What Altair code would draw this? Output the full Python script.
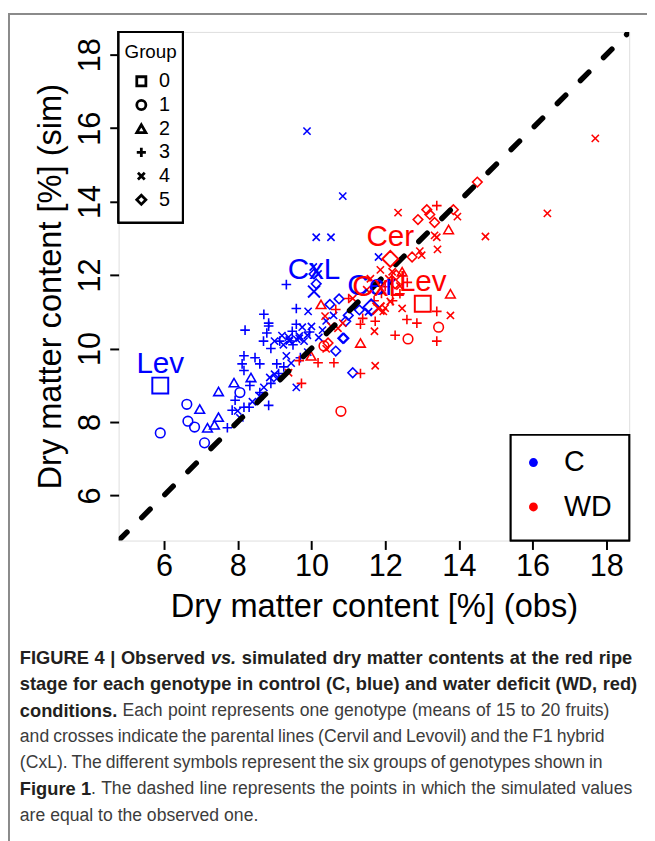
import altair as alt
import pandas as pd

# ---------------- data ----------------
# Control (C, blue): observed, simulated, group
c_obs = [5.90, 6.62, 6.65, 6.83, 7.10, 8.06,
         6.97, 7.48, 7.48, 7.18, 7.37, 7.90, 8.36,
         8.17, 8.12, 8.17, 8.47, 8.60, 8.33, 7.85, 7.72, 7.93, 8.17, 8.31, 8.84, 9.06, 9.11, 8.60,
         9.32, 8.71, 8.84, 8.84, 8.79, 8.20, 9.59, 9.59, 9.48, 9.14,
         9.50, 9.95, 9.70, 9.25, 8.90, 8.70, 8.90,
         8.06, 9.32, 8.71, 8.87, 9.06, 9.59, 9.67, 9.40, 10.13, 10.53, 9.91, 10.05, 10.18,
         9.38, 9.75, 9.89, 9.24, 9.88, 10.85, 11.82, 9.40, 9.67,
         9.00, 9.20, 9.60, 9.80, 10.00, 10.30, 10.40, 10.60, 10.20, 9.90, 9.45, 9.00, 8.60, 8.40,
         8.00, 11.55,
         10.66, 10.88, 11.12, 10.13, 10.07, 10.85, 10.93, 10.50, 10.75, 11.00, 11.30]
c_sim = [7.70, 8.48, 8.02, 7.86, 7.43, 8.80,
         8.35, 8.83, 8.13, 7.84, 7.92, 9.07, 9.21,
         9.80, 9.58, 9.40, 9.75, 9.58, 8.99, 8.32, 7.84, 8.59, 8.40, 8.40, 8.45, 9.58, 9.32, 8.80,
         11.74, 10.93, 10.69, 10.61, 10.42, 10.50, 11.09, 10.66, 10.47, 10.20,
         10.10, 10.45, 9.75, 9.50, 9.05, 10.20, 10.00,
         8.11, 9.80, 8.94, 9.21, 9.18, 8.94, 10.28, 10.23, 13.03, 13.03, 11.01, 12.22, 12.03,
         10.31, 10.58, 10.36, 10.10, 15.92, 14.15, 12.49, 10.20, 10.34,
         10.20, 10.35, 10.25, 10.20, 10.60, 10.50, 10.75, 10.90, 10.30, 9.90, 9.60, 9.30, 8.70, 8.55,
         8.30, 11.00,
         9.93, 10.28, 9.34, 11.76, 12.03, 10.28, 10.74, 11.20, 11.35, 10.90, 11.05]
c_grp = (["1"] * 6 + ["2"] * 7 + ["3"] * 15 + ["3"] * 10 + ["3"] * 7 + ["4"] * 13 + ["4"] * 9
         + ["4"] * 14 + ["4"] * 2 + ["5"] * 11)

# Water deficit (WD, red)
wd_obs = [10.80, 10.34, 12.62, 13.45,
          9.99, 10.26, 11.33, 13.77, 12.46, 13.72,
          9.73, 9.67, 10.18, 10.61, 10.66, 11.33, 11.39, 12.27, 13.40, 12.86, 13.40, 13.40,
          11.01, 12.00, 12.40, 12.59, 11.73, 11.33, 11.90, 12.20, 11.70, 12.60,
          9.38, 10.37, 11.12, 10.40, 11.71, 13.77, 12.46, 11.87, 12.19, 12.99, 12.94, 13.42,
          13.40, 13.34, 14.72, 12.35, 13.96, 16.40, 17.70, 10.53, 10.72, 10.85, 12.14, 11.95, 11.73,
          11.60, 12.10, 12.00, 11.50, 12.40,
          10.45, 12.73, 12.89, 13.13, 13.34, 13.21, 13.85, 14.50, 12.27, 12.30]
wd_sim = [8.29, 10.07, 10.26, 10.58,
          9.80, 11.20, 10.15, 11.49, 12.09, 13.24,
          9.05, 9.67, 9.61, 9.61, 11.06, 10.66, 10.82, 10.36, 10.20, 10.69, 11.01, 13.89,
          11.36, 11.68, 11.49, 10.79, 10.74, 9.32, 11.50, 11.30, 11.30, 11.80,
          9.34, 10.88, 11.36, 9.99, 10.47, 10.90, 11.09, 12.14, 12.09, 12.54, 12.65, 12.70,
          13.03, 13.08, 13.05, 13.70, 13.59, 13.68, 15.72, 10.61, 10.55, 10.69, 11.28, 11.01, 9.53,
          11.90, 11.90, 11.10, 11.60, 11.70,
          10.15, 12.49, 13.51, 13.78, 13.43, 13.65, 13.78, 14.53, 11.76, 12.00]
wd_grp = ["1"] * 4 + ["2"] * 6 + ["3"] * 22 + ["4"] * 30 + ["5"] * 10

# Parental lines and hybrid
parent_name = ["Lev", "CxL", "Cer", "Lev", "CxL", "Cer"]
parent_cond = ["C", "C", "C", "WD", "WD", "WD"]
parent_obs = [5.90, 10.07, 11.62, 13.02, 11.82, 12.14]
parent_sim = [8.99, 11.55, 11.12, 11.22, 11.09, 12.44]
parent_grp = ["0", "4", "5", "0", "4", "5"]

groups = ["0", "1", "2", "3", "4", "5"]
conds = ["C", "WD"]
cond_colors = ["#0000FF", "#FF0000"]
ticks = [6, 8, 10, 12, 14, 16, 18]
axis_lim = [4.77, 18.62]

# caption lines: list of (token, weight, style, joined_to_previous)
caption = [
    [("FIGURE", "b", "n", False), ("4", "b", "n", False), ("|", "b", "n", False),
     ("Observed", "b", "n", False), ("vs.", "b", "i", False), ("simulated", "b", "n", False),
     ("dry", "b", "n", False), ("matter", "b", "n", False), ("contents", "b", "n", False),
     ("at", "b", "n", False), ("the", "b", "n", False), ("red", "b", "n", False),
     ("ripe", "b", "n", False)],
    [(w, "b", "n", False) for w in
     "stage for each genotype in control (C, blue) and water deficit (WD, red)".split()],
    [("conditions.", "b", "n", False)] + [(w, "r", "n", False) for w in
     "Each point represents one genotype (means of 15 to 20 fruits)".split()],
    [(w, "r", "n", False) for w in
     "and crosses indicate the parental lines (Cervil and Levovil) and the F1 hybrid".split()],
    [(w, "r", "n", False) for w in
     "(CxL). The different symbols represent the six groups of genotypes shown in".split()],
    [("Figure", "b", "n", False), ("1", "b", "n", False), (".", "r", "n", True)] +
    [(w, "r", "n", False) for w in
     "The dashed line represents the points in which the simulated values".split()],
    [(w, "r", "n", False) for w in "are equal to the observed one.".split()],
]
caption_right = [640, 645, 617, 612, 610, 640, None]

# ---------------- tables ----------------
df = pd.DataFrame({
    "obs": c_obs + wd_obs,
    "sim": c_sim + wd_sim,
    "cond": ["C"] * len(c_obs) + ["WD"] * len(wd_obs),
    "group": c_grp + wd_grp,
})
par = pd.DataFrame({"obs": parent_obs, "sim": parent_sim, "cond": parent_cond,
                    "group": parent_grp, "name": parent_name})
diag = pd.DataFrame({"obs": axis_lim, "sim": axis_lim})

W, H = 517, 515
FONT = "Liberation Sans, Arial, Helvetica, sans-serif"
PLUS = "M-1,0L1,0M0,-1L0,1"
XS = "M-0.75,-0.75L0.75,0.75M-0.75,0.75L0.75,-0.75"
shape_scale = alt.Scale(domain=groups,
                        range=["square", "circle", "triangle-up", PLUS, XS, "diamond"])
color_scale = alt.Scale(domain=conds, range=cond_colors)

xscale = alt.Scale(domain=axis_lim, nice=False, zero=False)
yscale = alt.Scale(domain=axis_lim, nice=False, zero=False)

xaxis = alt.Axis(values=ticks, title="Dry matter content [%] (obs)", domain=False, grid=False,
                 tickColor="black", tickWidth=2, tickSize=9, labelFontSize=31, labelColor="black",
                 labelFont=FONT, labelPadding=2, labelFlush=False, labelOverlap=False,
                 titleFont=FONT, titleFontSize=33, titleFontWeight="normal", titleColor="black",
                 titlePadding=10)
yaxis = alt.Axis(values=ticks, title="Dry matter content [%] (sim)", domain=False, grid=False,
                 tickColor="black", tickWidth=2, tickSize=9, labelFontSize=31, labelColor="black",
                 labelFont=FONT, labelAngle=270, labelAlign="center", labelBaseline="bottom",
                 labelPadding=3, labelFlush=False, labelOverlap=False,
                 titleFont=FONT, titleFontSize=33, titleFontWeight="normal", titleColor="black",
                 titleX=-52, titleY=H / 2)

X = alt.X("obs:Q", scale=xscale, axis=xaxis)
Y = alt.Y("sim:Q", scale=yscale, axis=yaxis)
Yn = alt.Y("sim:Q", scale=yscale, axis=None)

points = alt.Chart(df).mark_point(filled=False, size=95, strokeWidth=1.6, opacity=1).encode(
    x=X, y=Y,
    color=alt.Color("cond:N", scale=color_scale, legend=None),
    shape=alt.Shape("group:N", scale=shape_scale, legend=None),
)

line = alt.Chart(diag).mark_line(color="black", strokeWidth=5.5, strokeDash=[12, 21],
                                 strokeCap="round", clip=True).encode(x=X, y=Yn)

par_pts = alt.Chart(par).mark_point(filled=False, size=260, strokeWidth=2, opacity=1).encode(
    x=X, y=Yn,
    color=alt.Color("cond:N", scale=color_scale, legend=None),
    shape=alt.Shape("group:N", scale=shape_scale, legend=None),
)
par_txt = alt.Chart(par).mark_text(fontSize=30, font=FONT, dy=-22, baseline="middle").encode(
    x=X, y=Yn, text="name:N",
    color=alt.Color("cond:N", scale=color_scale, legend=None),
)

# ---- Group legend (upper left) ----
gdf = pd.DataFrame({"group": groups})
gbox = alt.Chart(gdf).mark_rect(fill="white", stroke="black", strokeWidth=2).encode(
    x=alt.value(0), x2=alt.value(65), y=alt.value(0), y2=alt.value(193))
gtitle = alt.Chart(pd.DataFrame({"t": ["Group"]})).mark_text(
    fontSize=19, font=FONT, align="left", baseline="middle", color="black").encode(
    x=alt.value(6), y=alt.value(20), text="t:N")
gy = alt.Y("group:O", scale=alt.Scale(range=[50, 170], padding=0), axis=None)
gsym = alt.Chart(gdf).mark_point(filled=False, size=85, strokeWidth=2.8, color="black",
                                 opacity=1).encode(
    x=alt.value(23), y=gy, shape=alt.Shape("group:N", scale=shape_scale, legend=None))
glab = alt.Chart(gdf).mark_text(fontSize=20, font=FONT, align="left", baseline="middle",
                                color="black").encode(x=alt.value(41), y=gy, text="group:N")

# ---- Condition legend (lower right) ----
cdf = pd.DataFrame({"cond": conds})
cbox = alt.Chart(cdf).mark_rect(fill="white", stroke="black", strokeWidth=2).encode(
    x=alt.value(397), x2=alt.value(517), y=alt.value(408), y2=alt.value(515))
cy = alt.Y("cond:O", scale=alt.Scale(range=[436, 481], padding=0), axis=None)
csym = alt.Chart(cdf).mark_point(filled=True, size=80, opacity=1).encode(
    x=alt.value(420), y=cy, color=alt.Color("cond:N", scale=color_scale, legend=None))
clab = alt.Chart(cdf).mark_text(fontSize=29, font=FONT, align="left", baseline="middle",
                                color="black").encode(x=alt.value(451), y=cy, text="cond:N")

# ---- outer frame ----
frame_v = alt.Chart(gdf).mark_rule(color="#8a8a8a", strokeWidth=1.5).encode(
    x=alt.value(-111.3), y=alt.value(-18.3), y2=alt.value(830))
frame_h = alt.Chart(gdf).mark_rule(color="#8a8a8a", strokeWidth=1.5).encode(
    x=alt.value(-111.3), x2=alt.value(540), y=alt.value(-18.3))

# ---- caption (justified like the printed figure legend) ----
REG = {" ": 278, "(": 333, ")": 333, ",": 278, ".": 278, "|": 260, "1": 556, "5": 556,
       "0": 556, "2": 556, "4": 556,
       "C": 722, "E": 667, "F": 611, "L": 556, "T": 611, "x": 500,
       "a": 556, "b": 556, "c": 500, "d": 556, "e": 556, "f": 278, "g": 556, "h": 556,
       "i": 222, "j": 222, "k": 500, "l": 222, "m": 833, "n": 556, "o": 556, "p": 556,
       "q": 556, "r": 333, "s": 500, "t": 278, "u": 556, "v": 500, "w": 722, "y": 500, "z": 500}
BOLD = {" ": 278, "(": 333, ")": 333, ",": 278, ".": 278, "|": 280, "1": 556, "4": 556,
        "C": 722, "D": 722, "E": 667, "F": 611, "G": 778, "I": 278, "O": 778, "R": 722,
        "U": 722, "W": 944,
        "a": 556, "b": 611, "c": 556, "d": 611, "e": 556, "f": 333, "g": 611, "h": 611,
        "i": 278, "k": 556, "l": 278, "m": 889, "n": 611, "o": 611, "p": 611, "r": 389,
        "s": 556, "t": 333, "u": 611, "v": 556, "w": 778, "x": 556, "y": 556}
FS_B, FS_R = 18.5, 17.8


def tok_width(text, weight):
    table, fs = (BOLD, FS_B) if weight == "b" else (REG, FS_R)
    return sum(table.get(ch, 556) for ch in text) / 1000 * fs


cap_layers = []
left, line_y0, line_step = -100, 634, 26.6
for i, toks in enumerate(caption):
    widths = [tok_width(t[0], t[1]) for t in toks]
    n_gaps = sum(1 for t in toks[1:] if not t[3])
    if caption_right[i] is None:
        gap = 0.278 * FS_R
    else:
        gap = (caption_right[i] - 120 - left - sum(widths)) / n_gaps
    xpos = left
    for k, (text, weight, style, joined) in enumerate(toks):
        if k > 0 and not joined:
            xpos += gap
        cap_layers.append(
            alt.Chart(pd.DataFrame({"t": [text]})).mark_text(
                fontSize=FS_B if weight == "b" else FS_R, font=FONT,
                fontWeight="bold" if weight == "b" else "normal",
                fontStyle="italic" if style == "i" else "normal", align="left",
                baseline="middle",
                color="#231f20" if weight == "b" else "#3c3c3c").encode(
                x=alt.value(round(xpos, 1)), y=alt.value(line_y0 + i * line_step),
                text="t:N"))
        xpos += widths[k]

chart = alt.layer(
    points, line, par_pts, par_txt,
    gbox, gtitle, gsym, glab,
    cbox, csym, clab,
    frame_v, frame_h, *cap_layers,
).resolve_scale(y="independent").properties(
    width=W, height=H,
    autosize=alt.AutoSizeParams(type="none"),
    padding={"left": 112, "top": 19, "right": 18, "bottom": 300},
).configure_view(stroke="black", strokeWidth=2).configure(background="white")

chart.save("out.html", embed_options={"renderer": "svg", "actions": False})
